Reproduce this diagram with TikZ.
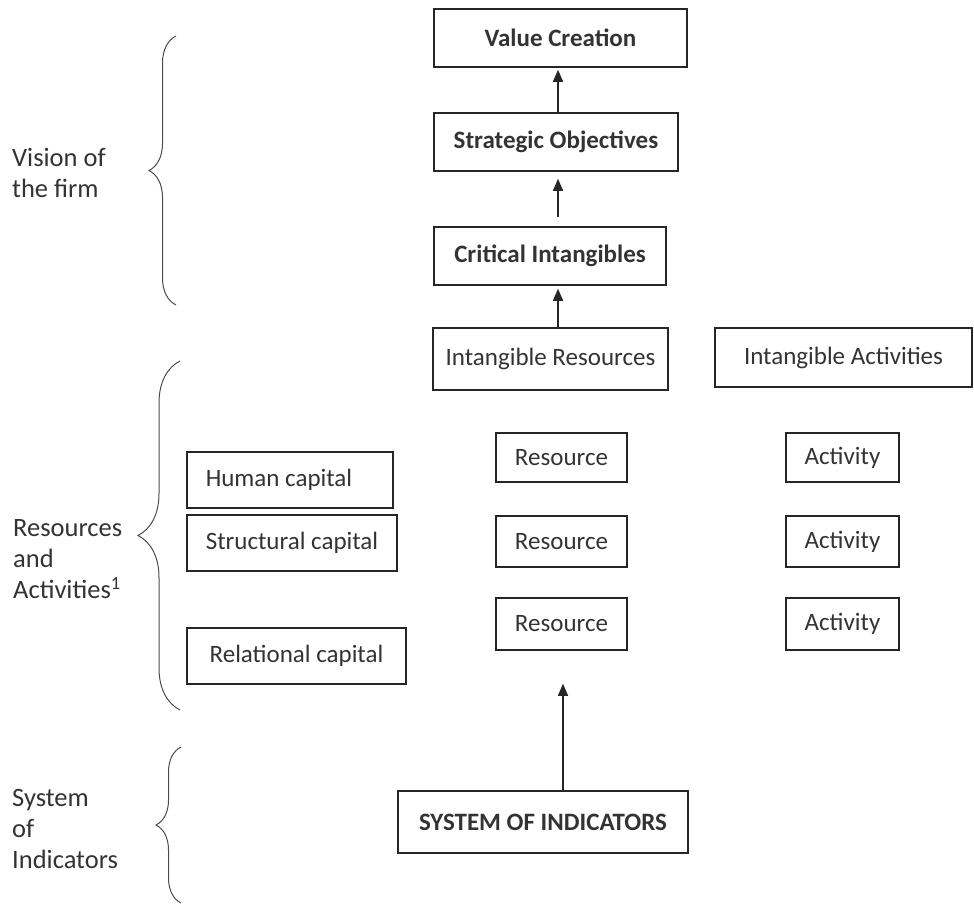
\documentclass[tikz,border=0pt]{standalone}
\usepackage{fontspec}
\setmainfont{Carlito}
\usetikzlibrary{arrows.meta,decorations.pathreplacing}
\begin{document}
\begin{tikzpicture}[x=1pt,y=-1pt,
 box/.style={draw=black!85, line width=1.5pt, inner sep=0pt, font=\fontsize{25}{30}\selectfont, text=black!80},
 bbox/.style={box, font=\fontsize{25}{30}\selectfont\bfseries},
 arr/.style={line width=1.3pt, draw=black!85, -{Triangle[width=10pt,length=12pt]}},
 brc/.style={decorate, decoration={brace, amplitude=#1}, line width=1pt, draw=black!70},
 side/.style={anchor=west, align=left, font=\fontsize{26.5}{31}\selectfont, text=black!80, inner sep=0pt}
]
\useasboundingbox (0,0) rectangle (974,905);

% top column
\node[bbox, minimum width=253pt, minimum height=58pt] (vc) at (560.5,38) {Value Creation};
\node[bbox, minimum width=244pt, minimum height=58pt] (so) at (556,142) {Strategic Objectives};
\node[bbox, minimum width=232pt, minimum height=58pt] (ci) at (550,256) {Critical Intangibles};
\node[box, minimum width=235pt, minimum height=62pt] (ir) at (550.5,359) {Intangible Resources};
\node[box, minimum width=257pt, minimum height=59pt] (ia) at (843.5,357.5) {Intangible Activities};

% resources and activities
\node[box, minimum width=131pt, minimum height=49pt] (r1) at (561.5,457.5) {Resource};
\node[box, minimum width=131pt, minimum height=51pt] (r2) at (561.5,541.5) {Resource};
\node[box, minimum width=131pt, minimum height=52pt] (r3) at (561.5,624) {Resource};
\node[box, minimum width=113pt, minimum height=49pt] (a1) at (842.5,457.5) {Activity};
\node[box, minimum width=113pt, minimum height=51pt] (a2) at (842.5,541.5) {Activity};
\node[box, minimum width=113pt, minimum height=52pt] (a3) at (842.5,624) {Activity};

% capitals
\node[box, minimum width=206pt, minimum height=56pt] (hc) at (290,480) {\hspace*{-22pt}Human capital};
\node[box, minimum width=210pt, minimum height=56pt] (sc) at (292,543) {Structural capital};
\node[box, minimum width=219pt, minimum height=56pt] (rc) at (296.5,656) {Relational capital};

% system of indicators
\node[bbox, minimum width=290pt, minimum height=62pt] (soi) at (543,822) {SYSTEM OF INDICATORS};

% arrows
\draw[arr, shorten >=2pt] ([xshift=2pt]so.north) -- ([xshift=2pt]so.north |- vc.south);
\draw[arr, shorten <=9pt, shorten >=7pt] ([xshift=8pt]ci.north) -- ([xshift=8pt]ci.north |- so.south);
\draw[arr, shorten >=3pt] ([xshift=7.5pt]ir.north) -- ([xshift=7.5pt]ir.north |- ci.south);
\draw[arr, shorten >=33pt] ([xshift=20pt]soi.north) -- ([xshift=20pt]soi.north |- r3.south);

% braces
\draw[brc=27pt] (176,305) -- (176,36);
\draw[brc=42pt] (180,710) -- (180,361);
\draw[brc=25pt] (181,903) -- (181,747);

% side labels
\node[side] (lv) at (12,172.5) {Vision of\\the firm};
\node[side] (lr) at (13,559) {Resources\\and\\Activities\textsuperscript{1}};
\node[side] (ls) at (12,829) {System\\of\\Indicators};
\end{tikzpicture}
\end{document}
